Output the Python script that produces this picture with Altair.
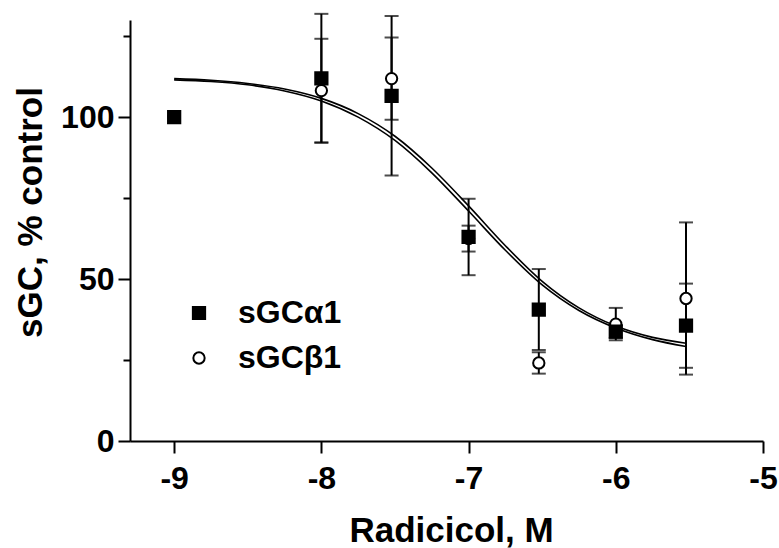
import altair as alt
import pandas as pd

# ---- data ----
series = ["sGCα1", "sGCβ1"]
conc = [-9, -8, -7.523, -7, -6.523, -6, -5.523]
a1_mean = [100, 112.0, 106.6, 63.0, 40.6, 33.8, 35.6]
a1_err = [0, 19.9, 24.6, 11.8, 12.5, 2.0, 13.0]
b1_mean = [100, 108.2, 111.9, 62.5, 24.1, 36.1, 44.0]
b1_err = [0, 16.0, 12.7, 4.0, 3.3, 5.0, 23.5]

curve_x = [-9, -8.75, -8.5, -8.25, -8, -7.75, -7.5, -7.25, -7, -6.75, -6.5, -6.25, -6, -5.75, -5.523]
curve_a1 = [111.9, 111.4, 110.4, 108.7, 105.8, 101.1, 94.1, 84.3, 72.6, 60.3, 49.3, 41.1, 35.5, 32.0, 30.2]
curve_b1 = [111.5, 111.0, 110.0, 108.1, 105.0, 100.0, 92.8, 82.8, 71.0, 58.9, 48.2, 40.3, 34.9, 31.3, 29.2]

x_ticks = [-9, -8, -7, -6, -5]
y_major = [0, 50, 100]
y_minor = [25, 75, 125]

FONT = "Liberation Sans"

# ---- tables (circles first so squares are drawn on top) ----
rows = []
for s, means, errs in [(series[1], b1_mean, b1_err), (series[0], a1_mean, a1_err)]:
    for x, m, e in zip(conc, means, errs):
        rows.append({"series": s, "x": x, "mean": m, "lo": m - e, "hi": m + e, "err": e})
pts = pd.DataFrame(rows)
errs_df = pts[pts["err"] > 0]

crows = []
for s, ys in [(series[0], curve_a1), (series[1], curve_b1)]:
    for x, y in zip(curve_x, ys):
        crows.append({"curve": s, "x": x, "y": y})
curves = pd.DataFrame(crows)

xscale = alt.Scale(domain=[-9.3, -5], nice=False, zero=False)
yscale = alt.Scale(domain=[0, 130], nice=False, zero=True)

xaxis = alt.Axis(values=x_ticks, labelExpr="'' + datum.value", title="Radicicol, M",
                 tickSize=12, tickWidth=2, domainWidth=2, labelPadding=10,
                 labelFontSize=32, titleFontSize=35, labelFont=FONT, titleFont=FONT,
                 labelFontWeight="bold", titleFontWeight="bold", grid=False,
                 labelFlush=False, titleX=321, titleY=100, titleBaseline="alphabetic",
                 domainColor="black", tickColor="black", labelColor="black", titleColor="black")

X = alt.X("x:Q", scale=xscale, axis=xaxis)

y_major_axis = alt.Axis(values=y_major, title="sGC, % control", orient="left",
                        tickSize=12, tickWidth=2, domainWidth=2, labelPadding=4,
                        labelFontSize=32, titleFontSize=35, labelFont=FONT, titleFont=FONT,
                        labelFontWeight="bold", titleFontWeight="bold", grid=False,
                        titleX=-89, titleY=192, titleAngle=270, titleAlign="center",
                        titleBaseline="alphabetic",
                        domainColor="black", tickColor="black", labelColor="black", titleColor="black")
y_minor_axis = alt.Axis(values=y_minor, title=None, orient="left", tickSize=7, tickWidth=2,
                        labels=False, domain=False, grid=False, tickColor="black")

rules = alt.Chart(errs_df).mark_rule(color="black", strokeWidth=2).encode(
    x=X, y=alt.Y("lo:Q", scale=yscale, axis=None), y2="hi:Q")
cap_lo = alt.Chart(errs_df).mark_tick(color="black", orient="horizontal", size=14, thickness=2).encode(
    x=X, y=alt.Y("lo:Q", scale=yscale, axis=None))
cap_hi = alt.Chart(errs_df).mark_tick(color="black", orient="horizontal", size=14, thickness=2).encode(
    x=X, y=alt.Y("hi:Q", scale=yscale, axis=None))

lines = alt.Chart(curves).mark_line(color="black", strokeWidth=1.6, interpolate="monotone").encode(
    x=X, y=alt.Y("y:Q", scale=yscale, axis=y_major_axis), detail="curve:N")

leg = alt.Legend(title=None, orient="none", legendX=53, legendY=277, labelFontSize=32,
                 labelFont=FONT, labelFontWeight="bold", labelColor="black", labelOffset=23,
                 rowPadding=13, symbolStrokeWidth=2, symbolStrokeColor="black", padding=0)

points = alt.Chart(pts).mark_point(strokeWidth=2, opacity=1, fillOpacity=1).encode(
    x=X,
    y=alt.Y("mean:Q", scale=yscale, axis=y_minor_axis),
    shape=alt.Shape("series:N", scale=alt.Scale(domain=series, range=["square", "circle"]), legend=leg),
    fill=alt.Fill("series:N", scale=alt.Scale(domain=series, range=["black", "white"]), legend=leg),
    stroke=alt.Stroke("series:N", scale=alt.Scale(domain=series, range=["black", "black"]), legend=leg),
    size=alt.Size("series:N", scale=alt.Scale(domain=series, range=[150, 128]), legend=leg),
)

chart = alt.layer(rules, cap_lo, cap_hi, lines, points).resolve_axis(y="independent").properties(
    width=633, height=421,
    autosize=alt.AutoSizeParams(type="none"),
    padding={"left": 130, "top": 20, "right": 16, "bottom": 107},
    background="white",
).configure_view(stroke=None)

chart.save("out.html", embed_options={"renderer": "svg", "actions": False})
